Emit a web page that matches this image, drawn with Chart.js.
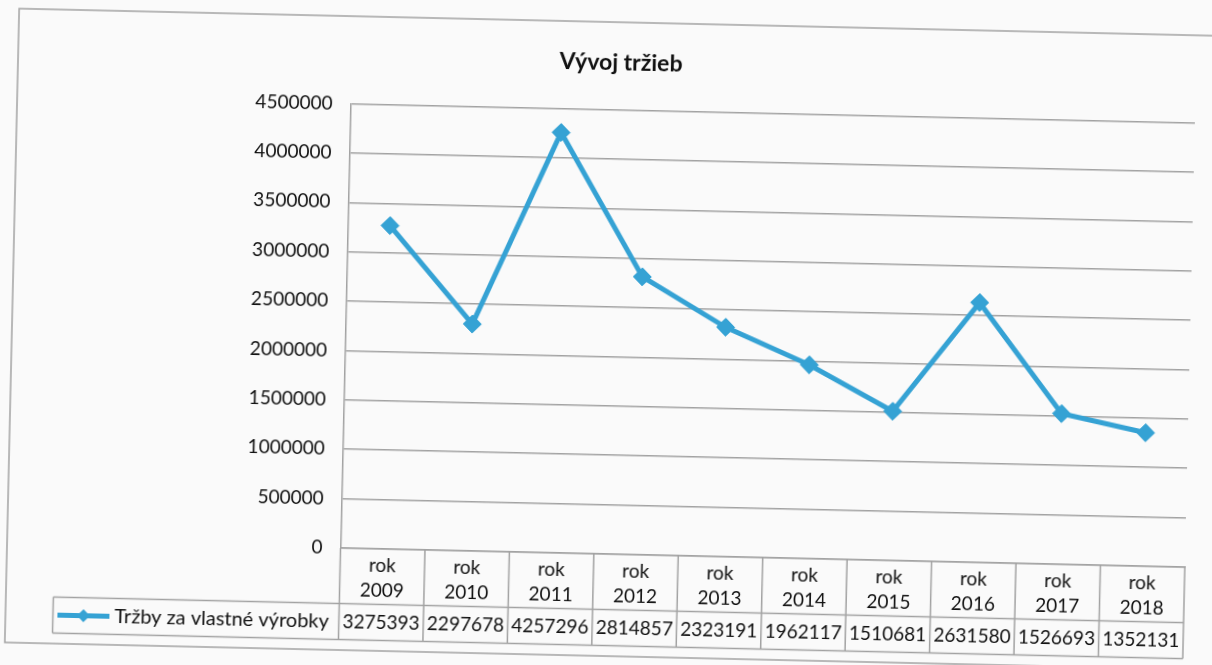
<!DOCTYPE html>
<html>
<head>
<meta charset="utf-8">
<title>Vývoj tržieb</title>
<script src="https://cdn.jsdelivr.net/npm/chart.js@4"></script>
<style>
  html, body { margin: 0; padding: 0; background: #fafafa; overflow: hidden; }
  .wrap { position: relative; width: 1212px; height: 665px; transform: rotate(1.3deg); transform-origin: 606px 332px; }
</style>
</head>
<body>
<div class="wrap"><canvas id="chart"></canvas></div>
<script>
const years = ["2009", "2010", "2011", "2012", "2013", "2014", "2015", "2016", "2017", "2018"];
const tickLabels = years.map((y) => ["rok", y]);
const sales = [3275393, 2297678, 4257296, 2814857, 2323191, 1962117, 1510681, 2631580, 1526693, 1352131];
const seriesName = "Tržby za vlastné výrobky";

const blue = "#35a2d4";
const gray = "#a2a2a2";
const ink = "#111111";
const font = "Lato";

// data table under the plot (header row comes from the x axis ticks)
const dataTable = {
  id: "dataTable",
  beforeDraw(chart) {
    const ctx = chart.ctx;
    ctx.save();
    ctx.strokeStyle = gray;
    ctx.lineWidth = 1.5;
    ctx.strokeRect(12, 22, 1220, 634);
    ctx.restore();
  },
  afterDraw(chart) {
    const { ctx, chartArea } = chart;
    const x = chart.scales.x;
    const half = (x.getPixelForValue(1) - x.getPixelForValue(0)) / 2;
    const rowTop = x.top + 55.5;
    const rowBottom = x.bottom - 0.5;
    const legendLeft = 59.5;
    const rowMid = (rowTop + rowBottom) / 2;

    ctx.save();
    ctx.strokeStyle = gray;
    ctx.lineWidth = 1.5;
    ctx.beginPath();
    ctx.moveTo(legendLeft, rowTop);
    ctx.lineTo(chartArea.right, rowTop);
    ctx.moveTo(legendLeft, rowBottom);
    ctx.lineTo(chartArea.right, rowBottom);
    ctx.moveTo(legendLeft, rowTop);
    ctx.lineTo(legendLeft, rowBottom);
    for (let i = 0; i <= years.length; i++) {
      const px = x.getPixelForValue(0) - half + i * 2 * half;
      ctx.moveTo(px, x.top);
      ctx.lineTo(px, rowBottom);
    }
    ctx.stroke();

    // legend key
    ctx.strokeStyle = blue;
    ctx.lineWidth = 5;
    ctx.beginPath();
    ctx.moveTo(64, rowMid);
    ctx.lineTo(116, rowMid);
    ctx.stroke();
    ctx.fillStyle = blue;
    ctx.beginPath();
    ctx.moveTo(90, rowMid - 6.5);
    ctx.lineTo(96.5, rowMid);
    ctx.lineTo(90, rowMid + 6.5);
    ctx.lineTo(83.5, rowMid);
    ctx.closePath();
    ctx.fill();

    ctx.fillStyle = ink;
    ctx.textBaseline = "middle";
    ctx.textAlign = "left";
    ctx.font = "20px " + font;
    ctx.fillText(seriesName, 121, rowMid);
    ctx.font = "19px " + font;
    ctx.textAlign = "center";
    sales.forEach((v, i) => {
      ctx.fillText(String(v), x.getPixelForValue(i), rowMid);
    });
    ctx.restore();
  },
};

const config = {
  type: "line",
  data: {
    labels: tickLabels,
    datasets: [
      {
        label: seriesName,
        data: sales,
        borderColor: blue,
        backgroundColor: blue,
        borderWidth: 5,
        pointStyle: "rectRot",
        pointRadius: 9,
        pointBorderWidth: 1,
        tension: 0,
        fill: false,
      },
    ],
  },
  options: {
    responsive: true,
    maintainAspectRatio: false,
    animation: false,
    layout: { padding: { left: 40, right: 22, top: 0, bottom: 19 } },
    plugins: {
      legend: { display: false },
      tooltip: { enabled: false },
      title: {
        display: true,
        text: "Vývoj tržieb",
        color: ink,
        font: { family: font, size: 23, weight: "bold" },
        padding: { top: 49, bottom: 33 },
      },
    },
    scales: {
      x: {
        offset: true,
        grid: { display: false, drawTicks: false },
        border: { display: true, color: gray, width: 1.5 },
        ticks: {
          color: ink,
          font: { family: font, size: 19, lineHeight: 1.32 },
          padding: 4.5,
          autoSkip: false,
          maxRotation: 0,
        },
        afterFit(scale) {
          scale.height = 92;
        },
      },
      y: {
        min: 0,
        max: 4500000,
        grid: { color: gray, lineWidth: 1.5, drawTicks: false },
        border: { display: true, color: gray, width: 1.5 },
        ticks: {
          stepSize: 500000,
          color: ink,
          font: { family: font, size: 19 },
          padding: 18,
          callback: (v) => String(v),
        },
        afterFit(scale) {
          scale.width = 305.5;
        },
      },
    },
  },
  plugins: [dataTable],
};

new Chart(document.getElementById("chart"), config);
</script>
</body>
</html>
